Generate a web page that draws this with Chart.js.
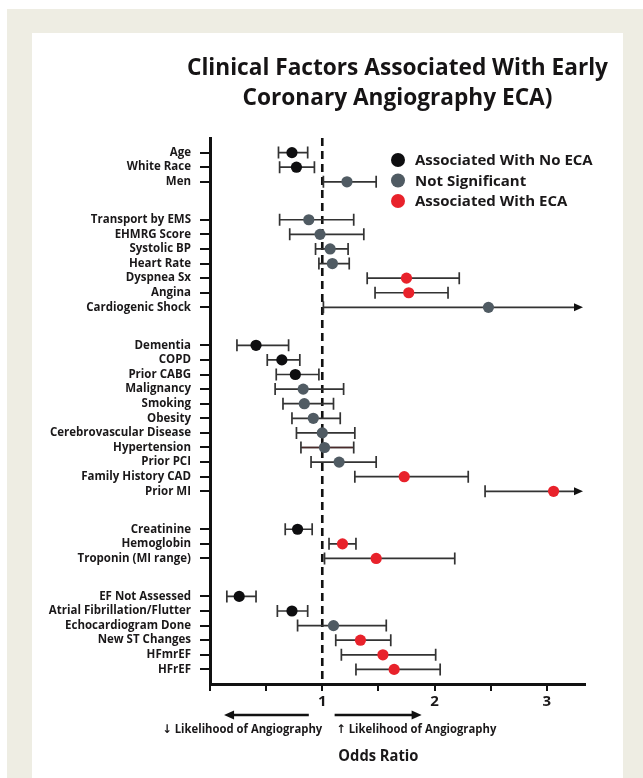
<!DOCTYPE html>
<html>
<head>
<meta charset="utf-8">
<title>Clinical Factors Associated With Early Coronary Angiography</title>
<script src="https://cdn.jsdelivr.net/npm/chart.js@4.4.1/dist/chart.umd.min.js"></script>
<style>
  html, body { margin: 0; padding: 0; background: #ffffff; }
  #frame { position: absolute; left: 7px; top: 9px; right: 0; bottom: 0; background: #eeede3; }
  #panel { position: absolute; left: 32px; top: 33px; width: 591px; bottom: 0; background: #ffffff; }
  #wrap { position: absolute; left: 0; top: 0; width: 643px; height: 778px; }
</style>
</head>
<body>
<div id="frame"></div>
<div id="panel"></div>
<div id="wrap"><canvas id="forest" width="643" height="778"></canvas></div>
<script>
// ---- data ----
const titleLines = ['Clinical Factors Associated With Early', 'Coronary Angiography ECA)'];

const factors = [
  'Age', 'White Race', 'Men',
  'Transport by EMS', 'EHMRG Score', 'Systolic BP', 'Heart Rate', 'Dyspnea Sx', 'Angina', 'Cardiogenic Shock',
  'Dementia', 'COPD', 'Prior CABG', 'Malignancy', 'Smoking', 'Obesity', 'Cerebrovascular Disease',
  'Hypertension', 'Prior PCI', 'Family History CAD', 'Prior MI',
  'Creatinine', 'Hemoglobin', 'Troponin (MI range)',
  'EF Not Assessed', 'Atrial Fibrillation/Flutter', 'Echocardiogram Done', 'New ST Changes', 'HFmrEF', 'HFrEF'
];

// number of factors in each block of rows
const groupSizes = [3, 7, 11, 3, 6];

const oddsRatio = [
  0.73, 0.77, 1.22,
  0.88, 0.98, 1.07, 1.09, 1.75, 1.77, 2.48,
  0.41, 0.64, 0.76, 0.83, 0.84, 0.92, 1.00, 1.02, 1.15, 1.73, 3.06,
  0.78, 1.18, 1.48,
  0.26, 0.73, 1.10, 1.34, 1.54, 1.64
];
const ciLow = [
  0.61, 0.62, 1.01,
  0.62, 0.71, 0.94, 0.97, 1.40, 1.47, 1.01,
  0.24, 0.51, 0.59, 0.58, 0.65, 0.73, 0.77, 0.81, 0.90, 1.29, 2.45,
  0.67, 1.06, 1.02,
  0.15, 0.60, 0.78, 1.12, 1.17, 1.30
];
// upper limits past the end of the axis are drawn as arrows
const ciHigh = [
  0.87, 0.93, 1.48,
  1.28, 1.37, 1.23, 1.24, 2.22, 2.12, 3.60,
  0.70, 0.80, 0.97, 1.19, 1.10, 1.16, 1.29, 1.28, 1.48, 2.30, 3.60,
  0.91, 1.30, 2.18,
  0.41, 0.87, 1.57, 1.61, 2.01, 2.05
];
// 0 = associated with no ECA, 1 = not significant, 2 = associated with ECA
const association = [
  0, 0, 1,
  1, 1, 1, 1, 2, 2, 1,
  0, 0, 0, 1, 1, 1, 1, 1, 1, 2, 2,
  0, 2, 2,
  0, 0, 1, 2, 2, 2
];
const seriesNames = ['Associated With No ECA', 'Not Significant', 'Associated With ECA'];

const xTickLabels = [1, 2, 3];
const xAxisTitle = 'Odds Ratio';
const directionNotes = ['\u2193 Likelihood of Angiography', '\u2191 Likelihood of Angiography'];

// ---- styling ----
const seriesColors = ['#0e0e10', '#505b63', '#e8222b'];
const whiskerColor = '#333333';
const whiskerOverride = { 'Hypertension': '#4a2a2a' };
const inkColor = '#1a1819';
const FONT = '"Open Sans", "DejaVu Sans", sans-serif';
const GROUP_GAP = 1.6;   // extra blank space between blocks, in rows
const X_MAX = 3.34;

// vertical slot for each factor: consecutive rows, with a gap after each block
const rowPos = [];
(function () {
  let k = 0;
  groupSizes.forEach((n, gi) => {
    for (let j = 0; j < n; j++) { rowPos.push(k + gi * GROUP_GAP); k++; }
  });
})();

const datasets = seriesNames.map((name, c) => ({
  label: name,
  data: factors.map((f, i) => ({ x: oddsRatio[i], y: rowPos[i], cls: association[i] }))
               .filter(p => p.cls === c),
  backgroundColor: seriesColors[c],
  borderWidth: 0,
  pointRadius: 5.6,
  pointHoverRadius: 5.6
}));

function arrowHead(ctx, tipX, tipY, dir, len, half) {
  ctx.beginPath();
  ctx.moveTo(tipX, tipY);
  ctx.lineTo(tipX - dir * len, tipY - half);
  ctx.lineTo(tipX - dir * len, tipY + half);
  ctx.closePath();
  ctx.fill();
}

// draw text squeezed horizontally by a fixed factor
function squeezed(ctx, text, x, y, factor) {
  ctx.fillText(text, x, y, ctx.measureText(text).width * factor);
}

const forestDecor = {
  id: 'forestDecor',
  beforeDatasetsDraw(chart) {
    const { ctx, chartArea: a, scales: { x, y } } = chart;
    ctx.save();

    // reference line at OR = 1
    const x1 = x.getPixelForValue(1);
    ctx.strokeStyle = '#111111';
    ctx.lineWidth = 2.6;
    ctx.setLineDash([8, 5]);
    ctx.beginPath();
    ctx.moveTo(x1, a.top);
    ctx.lineTo(x1, a.bottom);
    ctx.stroke();
    ctx.setLineDash([]);

    // confidence intervals
    const cap = 6;
    factors.forEach((f, i) => {
      const py = y.getPixelForValue(rowPos[i]);
      const lo = x.getPixelForValue(ciLow[i]);
      const beyond = ciHigh[i] > X_MAX;
      const hi = beyond ? a.right - 2 : x.getPixelForValue(ciHigh[i]);
      ctx.fillStyle = '#111111';
      ctx.strokeStyle = whiskerColor;
      ctx.lineWidth = 1.7;
      ctx.beginPath();
      ctx.moveTo(lo, py);
      ctx.lineTo(beyond ? hi - 6 : hi, py);
      ctx.moveTo(lo, py - cap);
      ctx.lineTo(lo, py + cap);
      if (!beyond) {
        ctx.moveTo(hi, py - cap);
        ctx.lineTo(hi, py + cap);
      }
      ctx.stroke();
      if (whiskerOverride[f]) {
        ctx.strokeStyle = whiskerOverride[f];
        ctx.beginPath();
        ctx.moveTo(lo + 1, py);
        ctx.lineTo(hi - 1, py);
        ctx.stroke();
      }
      if (beyond) arrowHead(ctx, hi, py, 1, 9, 4);
    });
    ctx.restore();
  },
  afterDraw(chart) {
    const { ctx, chartArea: a, scales: { x } } = chart;
    const cx = (a.left + a.right) / 2;
    ctx.save();
    ctx.fillStyle = '#161415';
    ctx.textBaseline = 'alphabetic';
    ctx.textAlign = 'center';

    // title, condensed to the width of the plot column
    ctx.font = '700 24px ' + FONT;
    const tsq = Math.min(1, 421 / ctx.measureText(titleLines[0]).width);
    squeezed(ctx, titleLines[0], cx, 75, tsq);
    squeezed(ctx, titleLines[1], cx, 105, tsq);

    // legend
    ctx.font = '700 15px ' + FONT;
    ctx.textAlign = 'left';
    ctx.textBaseline = 'middle';
    const lsq = Math.min(1, 180 / ctx.measureText(seriesNames[0]).width);
    seriesNames.forEach((name, c) => {
      const ly = a.top + 22 + c * 20.5;
      ctx.fillStyle = seriesColors[c];
      ctx.beginPath();
      ctx.arc(a.left + 188, ly, 7, 0, Math.PI * 2);
      ctx.fill();
      ctx.fillStyle = inkColor;
      squeezed(ctx, name, a.left + 205, ly + 1, lsq);
    });

    // direction arrows under the axis
    const ay = a.bottom + 31;
    ctx.strokeStyle = '#111111';
    ctx.fillStyle = '#111111';
    ctx.lineWidth = 2.4;
    const l0 = x.getPixelForValue(0.88), l1 = x.getPixelForValue(0.125);
    const r0 = x.getPixelForValue(1.11), r1 = x.getPixelForValue(1.885);
    ctx.beginPath();
    ctx.moveTo(l0, ay); ctx.lineTo(l1 + 8, ay);
    ctx.moveTo(r0, ay); ctx.lineTo(r1 - 8, ay);
    ctx.stroke();
    arrowHead(ctx, l1, ay, -1, 10, 4.5);
    arrowHead(ctx, r1, ay, 1, 10, 4.5);

    ctx.font = '700 12px ' + FONT;
    ctx.fillStyle = inkColor;
    ctx.textBaseline = 'middle';
    const nsq = Math.min(1, 160 / ctx.measureText(directionNotes[0]).width);
    ctx.textAlign = 'right';
    squeezed(ctx, directionNotes[0], x.getPixelForValue(1), a.bottom + 46, nsq);
    ctx.textAlign = 'left';
    squeezed(ctx, directionNotes[1], x.getPixelForValue(1.125), a.bottom + 46, nsq);

    // axis title
    ctx.font = '700 16px ' + FONT;
    ctx.textAlign = 'center';
    squeezed(ctx, xAxisTitle, x.getPixelForValue(1.5), a.bottom + 72, 0.92);
    ctx.restore();
  }
};

new Chart(document.getElementById('forest'), {
  type: 'scatter',
  data: { datasets },
  plugins: [forestDecor],
  options: {
    responsive: false,
    animation: false,
    events: [],
    layout: { padding: { top: 138, right: 58, left: 0, bottom: 0 } },
    plugins: {
      legend: { display: false },
      tooltip: { enabled: false },
      title: { display: false }
    },
    scales: {
      x: {
        type: 'linear',
        min: 0,
        max: X_MAX,
        afterBuildTicks: s => { s.ticks = [0, 0.5, 1, 1.5, 2, 2.5, 3].map(v => ({ value: v })); },
        afterFit: s => { s.height = 94; },
        ticks: {
          autoSkip: false,
          maxRotation: 0,
          padding: 2,
          color: inkColor,
          font: { family: FONT, weight: 'bold', size: 15 },
          callback: v => (xTickLabels.includes(v) ? String(v) : '')
        },
        grid: { drawOnChartArea: false, drawTicks: true, tickLength: 7, lineWidth: 2, color: '#111111' },
        border: { display: true, width: 3, color: '#111111' }
      },
      y: {
        type: 'linear',
        reverse: true,
        min: -1,
        max: rowPos[rowPos.length - 1] + 1,
        afterBuildTicks: s => { s.ticks = rowPos.map(v => ({ value: v })); },
        afterFit: s => { s.width = 210; },
        ticks: {
          autoSkip: false,
          padding: 9,
          color: inkColor,
          font: { family: FONT, weight: 'bold', size: 11.5 },
          callback: (v, i) => factors[i]
        },
        grid: { drawOnChartArea: false, drawTicks: true, tickLength: 10, lineWidth: 2, color: '#111111' },
        border: { display: true, width: 3, color: '#111111' }
      }
    }
  }
});
</script>
</body>
</html>
